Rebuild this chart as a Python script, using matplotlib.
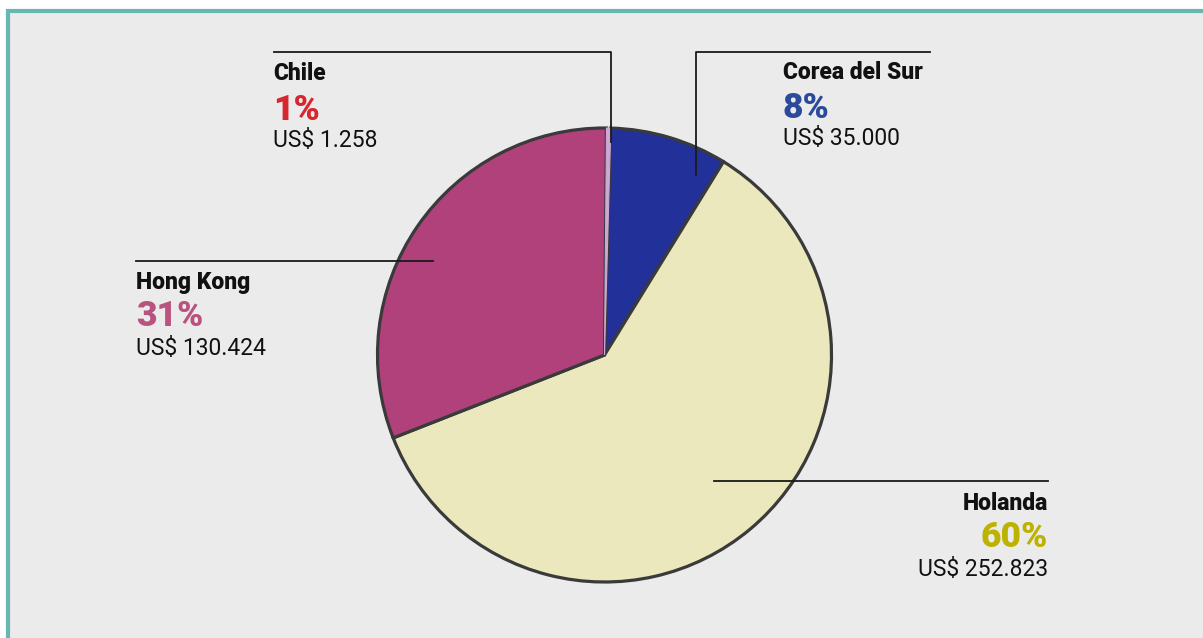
import matplotlib
matplotlib.use("Agg")
import matplotlib.pyplot as plt
from matplotlib.patches import Rectangle

# ---- data ----
countries = ["Chile", "Corea del Sur", "Holanda", "Hong Kong"]
values = [1258, 35000, 252823, 130424]
pct_labels = ["1%", "8%", "60%", "31%"]
value_labels = ["US$ 1.258", "US$ 35.000", "US$ 252.823", "US$ 130.424"]

wedge_colors = ["#cba8d6", "#22309a", "#ece8bd", "#b0417a"]
pct_colors = ["#d6262e", "#2a4a9c", "#bdb200", "#b9527f"]

W, H = 1203, 638
fig = plt.figure(figsize=(W / 100, H / 100), dpi=100)
fig.patch.set_facecolor("white")
ax = fig.add_axes([0, 0, 1, 1])


def Y(y):
    return H - y


# background panel with teal border
ax.add_patch(Rectangle((8, Y(700)), 1300, 700 - 11, facecolor="#ebebeb",
                       edgecolor="#68b6b2", linewidth=3, zorder=0))

# pie
wedges, _ = ax.pie(values, colors=wedge_colors, startangle=89.5,
                   counterclock=False, center=(604.5, Y(355)), radius=227,
                   frame=True,
                   wedgeprops=dict(edgecolor="#3a3a3a", linewidth=2.3))
# tiny Chile slice: drawn on top without a dark outline so it stays visible
wedges[0].set_edgecolor(wedge_colors[0])
wedges[0].set_linewidth(0.8)
wedges[0].set_zorder(3)

ax.set_xlim(0, W)
ax.set_ylim(0, H)
ax.set_aspect("equal")
ax.axis("off")

lc = "#1a1a1a"
# leader lines
ax.plot([274, 611, 611], [Y(52), Y(52), Y(142)], color=lc, lw=1.3, zorder=5)
ax.plot([930, 696, 696], [Y(52), Y(52), Y(175)], color=lc, lw=1.3, zorder=5)
ax.plot([136, 433], [Y(261), Y(261)], color=lc, lw=1.3, zorder=5)
ax.plot([714, 1048], [Y(481), Y(481)], color=lc, lw=1.3, zorder=5)

# label layout: (x, baseline of name, baseline of pct, baseline of value, ha)
layout = {
    "Chile": (273, 80, 120, 147, "left"),
    "Corea del Sur": (783, 79, 118, 145, "left"),
    "Hong Kong": (136, 289, 326, 355, "left"),
    "Holanda": (1048, 510, 547, 576, "right"),
}

fam = ["Roboto", "DejaVu Sans"]
for i, name in enumerate(countries):
    x, yn, yp, yv, ha = layout[name]
    ax.text(x, Y(yn), name, ha=ha, va="baseline", fontsize=16.5,
            fontweight="heavy", color="#111111", family=fam, zorder=6)
    ax.text(x, Y(yp), pct_labels[i], ha=ha, va="baseline", fontsize=25.5,
            fontweight="heavy", color=pct_colors[i], family=fam, zorder=6)
    ax.text(x, Y(yv), value_labels[i], ha=ha, va="baseline", fontsize=16.5,
            color="#111111", family=fam, zorder=6)

fig.savefig("out.png", dpi=100)
